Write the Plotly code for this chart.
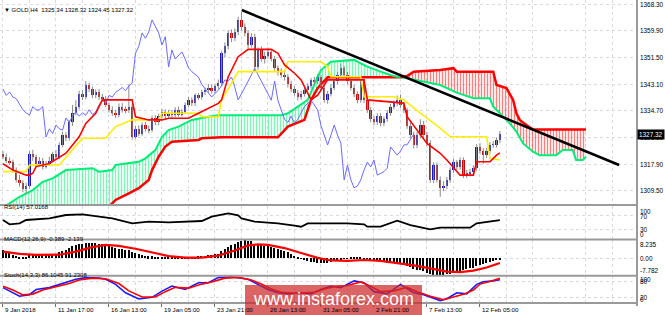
import plotly.graph_objects as go

# ---------------- data ----------------
tick_bars = [0, 16, 32, 48, 64, 80, 96, 112, 128, 144]
tick_labels = ["9 Jan 2018", "11 Jan 17:00", "16 Jan 13:00", "19 Jan 05:00", "23 Jan 21:00",
               "26 Jan 13:00", "31 Jan 05:00", "2 Feb 21:00", "7 Feb 13:00", "12 Feb 05:00"]
price_ticks = [1309.50, 1317.90, 1326.30, 1334.70, 1343.10, 1351.50, 1359.90, 1368.30]

open_ = [1321.0,1320.0,1319.0,1318.5,1316.0,1313.0,1312.0,1310.0,1311.0,1321.0,
1320.0,1318.0,1319.0,1317.0,1318.0,1319.0,1321.0,1320.0,1324.0,1327.0,
1326.0,1331.0,1334.0,1336.0,1340.0,1339.0,1342.8,1341.5,1339.5,1340.6,
1339.0,1338.5,1336.5,1335.0,1334.0,1333.3,1336.0,1335.0,1334.9,1336.0,
1326.4,1329.0,1327.5,1330.2,1329.0,1328.6,1332.4,1331.0,1333.0,1334.3,
1333.0,1334.0,1333.3,1335.0,1333.5,1334.3,1336.5,1338.0,1337.0,1339.5,
1339.0,1340.5,1341.2,1342.0,1341.0,1342.5,1343.4,1352.8,1355.0,1359.2,
1357.5,1359.5,1363.3,1361.0,1359.2,1355.4,1358.0,1348.5,1353.8,1351.0,
1352.0,1353.2,1351.0,1348.2,1347.0,1346.0,1345.3,1343.0,1341.5,1340.3,
1339.0,1340.0,1341.2,1342.5,1344.4,1344.0,1345.3,1342.0,1338.1,1340.0,
1342.0,1344.0,1346.0,1348.0,1346.0,1344.0,1342.0,1340.0,1338.0,1344.0,
1338.0,1334.9,1332.0,1331.0,1333.0,1330.8,1332.0,1334.0,1336.0,1337.0,
1338.0,1336.5,1334.9,1330.0,1327.0,1323.9,1327.0,1330.2,1327.0,1324.5,
1312.9,1317.6,1313.0,1310.4,1311.0,1312.9,1316.0,1318.5,1317.0,1319.2,
1314.4,1315.0,1315.5,1316.6,1323.3,1322.0,1320.7,1322.0,1323.9,1324.0,
1325.34]
high = [1322.0,1321.2,1320.0,1319.3,1316.8,1314.5,1312.8,1312.0,1322.0,1322.4,
1320.9,1320.1,1319.8,1318.9,1320.2,1321.8,1322.3,1324.7,1328.1,1327.9,
1331.8,1336.5,1338.0,1341.0,1341.2,1344.0,1343.6,1342.3,1341.4,1341.5,
1340.0,1339.3,1337.2,1336.1,1334.9,1337.0,1337.1,1336.0,1343.0,1336.8,
1330.0,1330.1,1331.0,1331.2,1330.0,1333.2,1333.3,1333.8,1335.2,1335.1,
1335.0,1334.9,1335.8,1336.0,1335.2,1337.3,1339.0,1338.9,1340.2,1340.3,
1341.3,1342.0,1343.1,1342.9,1343.2,1344.5,1353.6,1356.2,1360.0,1360.3,
1360.6,1364.3,1365.8,1362.2,1360.0,1359.1,1358.9,1354.6,1355.0,1353.3,
1354.6,1354.0,1351.9,1349.0,1348.1,1347.4,1346.2,1344.1,1342.4,1341.2,
1341.0,1342.0,1343.3,1345.0,1345.4,1346.2,1346.0,1342.8,1340.9,1342.9,
1344.8,1346.9,1349.5,1348.8,1346.9,1345.0,1342.9,1340.8,1344.9,1345.0,
1338.8,1335.8,1333.0,1333.9,1334.0,1332.8,1334.9,1336.8,1337.9,1339.5,
1339.8,1337.3,1335.6,1331.0,1328.0,1328.0,1332.0,1331.5,1328.0,1325.4,
1318.5,1318.4,1314.0,1312.5,1313.8,1316.9,1319.5,1319.2,1320.0,1320.0,
1316.0,1316.4,1317.5,1324.2,1324.5,1322.9,1323.0,1324.8,1325.2,1326.3,
1328.32]
low = [1319.4,1318.2,1317.6,1315.2,1312.1,1310.8,1309.0,1308.6,1310.2,1318.9,
1317.1,1317.4,1316.2,1316.5,1317.3,1318.4,1319.2,1319.4,1323.2,1325.1,
1325.3,1329.9,1333.2,1335.1,1338.0,1338.3,1340.6,1338.6,1338.7,1338.1,
1337.6,1335.8,1334.1,1333.0,1332.4,1332.6,1334.1,1333.9,1334.0,1325.6,
1325.9,1326.6,1326.8,1328.1,1327.6,1327.9,1330.2,1330.1,1332.2,1332.0,
1332.2,1332.4,1332.6,1332.8,1332.9,1333.6,1335.8,1336.1,1336.2,1338.1,
1338.2,1339.6,1340.3,1340.1,1340.2,1341.6,1342.6,1351.5,1354.0,1356.3,
1356.6,1358.5,1360.0,1358.1,1354.3,1354.6,1347.0,1347.6,1350.1,1349.6,
1351.1,1350.2,1347.3,1345.8,1345.1,1344.2,1342.0,1340.5,1339.4,1337.9,
1338.1,1339.1,1340.4,1341.7,1343.0,1343.1,1341.0,1337.2,1336.9,1339.2,
1341.2,1343.1,1345.1,1345.2,1343.0,1341.1,1339.0,1337.0,1337.2,1337.1,
1334.0,1331.1,1330.1,1330.2,1329.8,1329.9,1331.2,1333.1,1335.1,1336.1,
1335.6,1334.0,1329.0,1326.1,1322.8,1322.9,1326.0,1326.1,1323.5,1312.0,
1311.9,1312.1,1307.6,1309.4,1310.0,1312.0,1315.1,1316.0,1316.1,1313.5,
1313.5,1314.0,1314.6,1315.8,1321.0,1318.0,1319.8,1321.1,1323.0,1323.1,
1324.45]
close = [1320.0,1319.0,1318.5,1316.0,1313.0,1312.0,1310.0,1311.0,1321.0,1320.0,
1318.0,1319.0,1317.0,1318.0,1319.0,1321.0,1320.0,1324.0,1327.0,1326.0,
1331.0,1334.0,1336.0,1340.0,1339.0,1342.8,1341.5,1339.5,1340.6,1339.0,
1338.5,1336.5,1335.0,1334.0,1333.3,1336.0,1335.0,1334.9,1336.0,1326.4,
1329.0,1327.5,1330.2,1329.0,1328.6,1332.4,1331.0,1333.0,1334.3,1333.0,
1334.0,1333.3,1335.0,1333.5,1334.3,1336.5,1338.0,1337.0,1339.5,1339.0,
1340.5,1341.2,1342.0,1341.0,1342.5,1343.4,1352.8,1355.0,1359.2,1357.5,
1359.5,1363.3,1361.0,1359.2,1355.4,1358.0,1348.5,1353.8,1351.0,1352.0,
1353.2,1351.0,1348.2,1347.0,1346.0,1345.3,1343.0,1341.5,1340.3,1339.0,
1340.0,1341.2,1342.5,1344.4,1344.0,1345.3,1342.0,1338.1,1340.0,1342.0,
1344.0,1346.0,1348.0,1346.0,1344.0,1342.0,1340.0,1338.0,1344.0,1338.0,
1334.9,1332.0,1331.0,1333.0,1330.8,1332.0,1334.0,1336.0,1337.0,1338.0,
1336.5,1334.9,1330.0,1327.0,1323.9,1327.0,1330.2,1327.0,1324.5,1312.9,
1317.6,1313.0,1310.4,1311.0,1312.9,1316.0,1318.5,1317.0,1319.2,1314.4,
1315.0,1315.5,1316.6,1323.3,1322.0,1320.7,1322.0,1323.9,1324.0,1325.5,
1327.32]

tenkan_x = [0,3,7,8,9,10,14,19,23,25,28,30,39,40,44,48,50,56,59,65,66,68,71,74,81,83,85,88,90,93,95,98,109,110,121,122,128,132,134,138,142,143,147,149,150]
tenkan_y = [1318.0,1316.0,1314.4,1314.4,1315.0,1317.1,1318.1,1321.3,1326.5,1330.7,1333.9,1338.1,1338.1,1332.8,1331.8,1331.8,1332.3,1332.3,1333.9,1337.0,1338.1,1345.4,1351.7,1354.0,1354.0,1352.8,1349.1,1346.5,1344.4,1338.1,1339.6,1344.4,1344.4,1338.1,1337.1,1332.8,1324.4,1321.3,1319.2,1314.4,1314.4,1318.6,1318.6,1320.7,1321.4]

kijun_x = [0,7,8,17,24,31,34,39,47,48,59,60,65,66,69,71,85,86,96,98,99,108,109,118,121,126,132,135,146,147,150]
kijun_y = [1315.5,1315.5,1317.6,1317.6,1326.0,1326.0,1329.7,1331.8,1331.8,1333.9,1333.9,1332.8,1332.8,1338.1,1343.3,1347.0,1347.0,1350.1,1350.1,1348.6,1345.4,1345.4,1339.1,1339.1,1338.1,1333.9,1329.2,1326.5,1326.5,1319.7,1319.2]

spanA_up_x = [0,2,5,9,12,15,19,27,29,33,34,41,43,46,48,50,53,57,62,65,84,86,89,92,95,96,99,106,108,110,114,118,120]
spanA_up_y = [1304.5,1305.5,1307.6,1309.7,1312.3,1313.4,1316.0,1316.6,1315.5,1316.0,1317.6,1318.6,1319.7,1322.3,1326.5,1328.6,1329.7,1331.8,1332.8,1333.3,1333.3,1333.9,1336.0,1338.1,1345.4,1347.5,1350.1,1350.7,1349.6,1348.6,1347.0,1345.6,1345.2]
spanB_up_x = [0,30,32,34,38,41,44,45,47,49,51,59,60,66,83,86,91,93,95,98,120]
spanB_up_y = [1297.0,1302.5,1304.5,1306.6,1308.7,1310.3,1312.9,1316.0,1320.2,1323.4,1324.9,1325.5,1326.0,1326.3,1326.3,1329.7,1331.8,1338.1,1341.8,1345.2,1345.2]
spanA_dn_x = [120,122,132,137,142,147,148,150,153,155,157,160,162,167,169,172,173,175,176]
spanA_dn_y = [1345.2,1344.9,1342.8,1340.4,1338.6,1338.6,1336.0,1333.9,1330.7,1328.1,1324.4,1321.8,1320.7,1320.7,1322.3,1322.3,1319.2,1319.2,1320.2]
spanB_dn_x = [120,122,124,132,136,137,148,149,152,154,155,156,158,160,176]
spanB_dn_y = [1345.2,1345.6,1347.0,1347.5,1348.1,1347.0,1347.0,1342.8,1341.8,1338.1,1333.9,1331.8,1330.2,1328.8,1328.8]

trend_x = [72.1, 186.0]
trend_y = [1366.4, 1317.6]

rsi_x = [0,2,5,7,14,19,24,29,33,39,44,50,60,63,68,71,72,76,83,88,90,92,99,104,109,110,114,119,123,129,132,141,143,150]
rsi_y = [57.6,44.5,47.5,57.6,62.7,72.7,74.8,67.6,62.7,47.5,52.4,50.6,54.5,67.6,77.9,72.0,62.7,52.4,47.5,40.3,37.3,47.5,47.5,47.5,44.5,37.3,37.3,55.5,42.4,29.4,34.2,34.2,47.5,57.0]

macd_hist = [3.8,3.2,2.4,1.6,1.0,0.6,0.5,0.7,1.4,1.6,
1.5,1.5,1.4,1.4,1.5,1.9,2.0,2.6,3.4,3.8,
4.6,5.4,5.9,6.4,6.6,7.0,7.0,6.9,6.8,6.6,
6.3,5.9,5.5,5.0,4.7,4.4,4.1,3.8,3.6,2.6,
2.2,1.8,1.5,1.2,0.9,0.8,0.6,0.5,0.5,0.4,
0.3,0.2,0.2,0.1,0.1,0.2,0.4,0.4,0.7,0.8,
1.0,1.2,1.4,1.6,1.8,2.1,3.2,4.1,5.2,5.8,
6.5,7.4,8.0,8.2,7.8,7.7,6.6,6.3,6.0,5.7,
5.5,5.2,4.8,4.3,3.8,3.2,2.6,1.8,1.2,0.5,
-0.3,-0.8,-1.3,-1.6,-1.8,-2.0,-2.2,-2.3,-2.0,-1.7,
-1.4,-1.0,-0.6,-0.3,0.1,0.3,0.4,0.3,0.2,0.1,
-0.3,-0.7,-1.0,-1.3,-1.6,-1.8,-2.0,-2.1,-2.2,-2.3,
-2.5,-2.9,-3.5,-4.0,-4.8,-5.2,-5.5,-5.8,-6.5,-7.2,
-7.4,-7.6,-7.78,-7.6,-7.3,-7.0,-6.6,-6.2,-5.8,-5.4,
-5.0,-4.6,-4.2,-3.6,-3.0,-2.5,-2.0,-1.6,-1.2,-0.8,
-0.389]
macd_sig_x = [0,5,10,17,22,27,31,35,40,45,50,55,60,65,70,74,77,80,85,90,95,99,104,109,114,119,124,129,134,138,142,146,150]
macd_sig_y = [3.0,2.0,1.5,1.6,3.0,5.0,6.0,5.6,4.3,2.5,1.0,0.3,0.3,1.2,3.5,5.8,6.3,6.0,4.6,2.4,0.2,-1.0,-1.2,-0.8,-1.2,-2.2,-3.2,-4.6,-6.0,-6.3,-5.6,-4.2,-2.139]

stoch_k_x = [0,2,5,8,10,14,19,22,25,29,31,34,37,41,45,48,51,55,59,62,65,69,74,77,80,83,86,90,93,96,99,102,106,109,112,116,120,124,127,132,134,137,140,143,145,148,150]
stoch_k_y = [57,44,25,31,50,57,75,88,94,92,88,69,38,15,21,44,63,50,75,75,94,97,88,69,50,38,34,38,34,50,63,57,82,75,42,34,69,38,31,9,16,38,34,69,79,82,86.1]
stoch_d_x = [0,3,6,9,12,16,20,23,27,31,35,38,42,46,49,52,56,60,63,67,71,75,78,81,84,88,91,94,97,100,104,108,111,114,118,122,125,129,133,136,139,142,144,147,150]
stoch_d_y = [62,48,30,33,48,60,72,85,92,90,72,45,22,22,42,58,55,70,78,92,95,85,70,52,40,36,38,40,52,60,65,78,62,42,45,58,42,25,12,22,32,48,70,80,91.2]

# ---------------- figure ----------------
BULL = "#1a1ab8"
BEAR = "#d00000"
FONT = "Liberation Sans"

fig = go.Figure()

# Ichimoku cloud (green part: span A above span B)
fig.add_trace(go.Scatter(x=spanB_up_x, y=spanB_up_y, mode="lines",
                         line=dict(color="#ff0000", width=2.5), xaxis="x", yaxis="y", hoverinfo="skip"))
fig.add_trace(go.Scatter(x=spanA_up_x, y=spanA_up_y, mode="lines", fill="tonexty",
                         fillcolor="rgba(0,0,0,0)",
                         fillpattern=dict(shape="|", fgcolor="#00f070", bgcolor="rgba(0,0,0,0)",
                                          size=3, solidity=0.45),
                         line=dict(color="#00ee77", width=2), xaxis="x", yaxis="y", hoverinfo="skip"))
# red part: span B above span A
fig.add_trace(go.Scatter(x=spanA_dn_x, y=spanA_dn_y, mode="lines",
                         line=dict(color="#00ee77", width=2), xaxis="x", yaxis="y", hoverinfo="skip"))
fig.add_trace(go.Scatter(x=spanB_dn_x, y=spanB_dn_y, mode="lines", fill="tonexty",
                         fillcolor="rgba(0,0,0,0)",
                         fillpattern=dict(shape="|", fgcolor="#ff0000", bgcolor="rgba(0,0,0,0)",
                                          size=3, solidity=0.45),
                         line=dict(color="#ff0000", width=2.5), xaxis="x", yaxis="y", hoverinfo="skip"))

# candles: wicks + bodies
n = len(close)
bars = list(range(n))
wx, wy = [], []
for i in bars:
    wx += [i, i, None]
    wy += [low[i], high[i], None]
fig.add_trace(go.Scatter(x=wx, y=wy, mode="lines", line=dict(color="#8a8a8a", width=1),
                         xaxis="x", yaxis="y", hoverinfo="skip"))
body_base = [min(o, c) for o, c in zip(open_, close)]
body_h = [max(abs(c - o), 0.15) for o, c in zip(open_, close)]
body_col = [BULL if c >= o else BEAR for o, c in zip(open_, close)]
fig.add_trace(go.Bar(x=bars, y=body_h, base=body_base, width=0.72,
                     marker=dict(color=body_col, line=dict(width=0)), xaxis="x", yaxis="y",
                     hoverinfo="skip"))

# chikou span: closes plotted 26 bars back
fig.add_trace(go.Scatter(x=bars[:n - 26], y=close[26:], mode="lines",
                         line=dict(color="#6a6aff", width=1), xaxis="x", yaxis="y", hoverinfo="skip"))
# kijun / tenkan
fig.add_trace(go.Scatter(x=kijun_x, y=kijun_y, mode="lines",
                         line=dict(color="#ffee00", width=1.6), xaxis="x", yaxis="y", hoverinfo="skip"))
fig.add_trace(go.Scatter(x=tenkan_x, y=tenkan_y, mode="lines",
                         line=dict(color="#ff0000", width=1.6), xaxis="x", yaxis="y", hoverinfo="skip"))
# trend line
fig.add_trace(go.Scatter(x=trend_x, y=trend_y, mode="lines",
                         line=dict(color="#000000", width=2.6), xaxis="x", yaxis="y", hoverinfo="skip"))

# RSI
fig.add_trace(go.Scatter(x=rsi_x, y=rsi_y, mode="lines", line=dict(color="#000000", width=1.8),
                         xaxis="x", yaxis="y2", hoverinfo="skip"))
# MACD
fig.add_trace(go.Bar(x=bars, y=macd_hist, width=0.45, marker=dict(color="#000000", line=dict(width=0)),
                     xaxis="x", yaxis="y3", hoverinfo="skip"))
fig.add_trace(go.Scatter(x=macd_sig_x, y=macd_sig_y, mode="lines", line=dict(color="#ff0000", width=2.2),
                         xaxis="x", yaxis="y3", hoverinfo="skip"))
# Stochastic
fig.add_trace(go.Scatter(x=stoch_k_x, y=stoch_k_y, mode="lines", line=dict(color="#1a1aff", width=1.6),
                         xaxis="x", yaxis="y4", hoverinfo="skip"))
fig.add_trace(go.Scatter(x=stoch_d_x, y=stoch_d_y, mode="lines", line=dict(color="#ff0000", width=1.6),
                         xaxis="x", yaxis="y4", hoverinfo="skip"))

GRID = "#d8d8e6"
D_MAIN = [0.3234, 1.0]
D_RSI = [0.2112, 0.3201]
D_MACD = [0.0908, 0.2079]
D_STO = [0.0, 0.0891]

common_y = dict(showline=False, zeroline=False, ticks="", showticklabels=False, fixedrange=True,
                gridcolor=GRID, griddash="dot", gridwidth=1, anchor="x")

fig.update_layout(
    width=665, height=315,
    margin=dict(l=0, r=28, t=0, b=12),
    paper_bgcolor="white", plot_bgcolor="white",
    showlegend=False, bargap=0,
    font=dict(family=FONT, size=6.2, color="#000000"),
    xaxis=dict(range=[-0.9, 191.4], anchor="y4", showline=False, zeroline=False,
               tickmode="array", tickvals=tick_bars, ticktext=[""] * len(tick_bars),
               ticks="outside", ticklen=3, tickcolor="#707070", tickwidth=1,
               showgrid=True, gridcolor=GRID, griddash="dot",
               minor=dict(tickmode="array", tickvals=[b + 8 for b in tick_bars] + [160, 176, 184],
                          showgrid=True, gridcolor=GRID, griddash="dot", ticks=""),
               fixedrange=True),
    yaxis=dict(domain=D_MAIN, range=[1305.0, 1369.56], tickmode="array", tickvals=price_ticks,
               showgrid=True, **common_y),
    yaxis2=dict(domain=D_RSI, range=[0, 100], tickmode="array", tickvals=[30, 70], showgrid=True, **common_y),
    yaxis3=dict(domain=D_MACD, range=[-7.782, 8.235], tickmode="array", tickvals=[0], showgrid=True, **common_y),
    yaxis4=dict(domain=D_STO, range=[0, 100], tickmode="array", tickvals=[20, 80], showgrid=True, **common_y),
)

# panel separators and right axis line
sep = "#9a9a9a"
shapes = [
    dict(type="line", xref="paper", yref="paper", x0=0, x1=1, y0=0.3234, y1=0.3234, line=dict(color=sep, width=2)),
    dict(type="line", xref="paper", yref="paper", x0=0, x1=1, y0=0.2096, y1=0.2096, line=dict(color=sep, width=2)),
    dict(type="line", xref="paper", yref="paper", x0=0, x1=1, y0=0.0900, y1=0.0900, line=dict(color=sep, width=2)),
    dict(type="line", xref="paper", yref="paper", x0=0, x1=1, y0=0.0, y1=0.0, line=dict(color=sep, width=2)),
    dict(type="line", xref="paper", yref="paper", x0=1, x1=1, y0=-0.01, y1=1, line=dict(color=sep, width=2)),
    # watermark box
    dict(type="rect", xref="paper", yref="paper", x0=0.3846, x1=0.6625, y0=-0.045, y1=0.0594,
         fillcolor="rgba(205,40,40,0.72)", line=dict(width=0), layer="above"),
]
fig.update_layout(shapes=shapes)

ann = []
# right-side price labels
for p in price_ticks:
    ann.append(dict(xref="paper", yref="y", x=1, y=p, text=f"{p:.2f}", showarrow=False,
                    xanchor="left", xshift=1, font=dict(size=6.4, color="#000")))
# current price box
ann.append(dict(xref="paper", yref="y", x=1, y=close[-1], text=f"{close[-1]:.2f}", showarrow=False,
                xanchor="left", xshift=0, bgcolor="#000000", borderpad=1,
                font=dict(size=6.4, color="#ffffff")))
# RSI labels
for v, t, sh in [(100, "100", -5), (70, "70", -1), (30, "30", 0), (0, "0", 5)]:
    ann.append(dict(xref="paper", yref="y2", x=1, y=v, text=t, showarrow=False, xanchor="left",
                    xshift=1, yshift=sh, font=dict(size=6.4)))
for v, t, sh in [(8.235, "8.235", -4.5), (0, "0.00", 0), (-7.782, "-7.782", 4.5)]:
    ann.append(dict(xref="paper", yref="y3", x=1, y=v, text=t, showarrow=False, xanchor="left",
                    xshift=1, yshift=sh, font=dict(size=6.4)))
for v, t, sh in [(100, "100", -3), (80, "80", 0), (20, "20", 0), (0, "0", 4)]:
    ann.append(dict(xref="paper", yref="y4", x=1, y=v, text=t, showarrow=False, xanchor="left",
                    xshift=1, yshift=sh, font=dict(size=6.4)))
# date labels
for b, t in zip(tick_bars, tick_labels):
    ann.append(dict(xref="x", yref="paper", x=b, y=0, text=t, showarrow=False, xanchor="left",
                    yanchor="top", xshift=0, yshift=-1, font=dict(size=6.2)))
# panel titles
ann.append(dict(xref="paper", yref="paper", x=0, y=0.9835, text="▼ GOLD,H4  1325.34 1328.32 1324.45 1327.32",
                showarrow=False, xanchor="left", xshift=2, font=dict(size=6.0)))
ann.append(dict(xref="paper", yref="paper", x=0, y=0.3003, text="RSI(14) 57.0168",
                showarrow=False, xanchor="left", xshift=2, font=dict(size=6.0)))
ann.append(dict(xref="paper", yref="paper", x=0, y=0.1947, text="MACD(12,26,9) -0.389 -2.139",
                showarrow=False, xanchor="left", xshift=2, font=dict(size=6.0)))
ann.append(dict(xref="paper", yref="paper", x=0, y=0.0759, text="Stoch(14,3,3) 86.1045 91.2308",
                showarrow=False, xanchor="left", xshift=2, font=dict(size=6.0)))
# watermark text
ann.append(dict(xref="paper", yref="paper", x=0.5236, y=0.0132, text="www.instaforex.com",
                showarrow=False, xanchor="center", yanchor="middle",
                font=dict(size=18, color="#ffffff", family=FONT)))
fig.update_layout(annotations=ann)

fig.write_html("out.html")
